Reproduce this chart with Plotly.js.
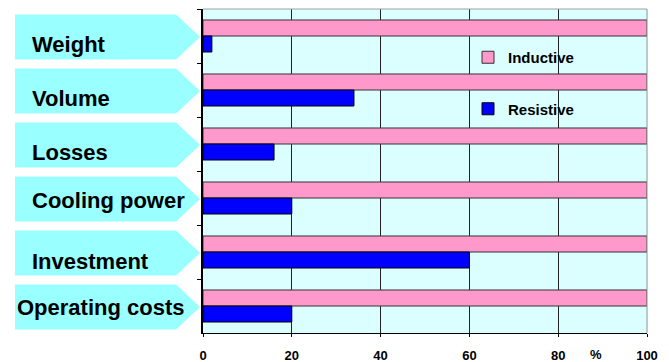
<!DOCTYPE html>
<html>
<head>
<meta charset="utf-8">
<script src="https://cdn.plot.ly/plotly-3.0.1.min.js"></script>
<style>html,body{margin:0;padding:0;background:#fff;}#chart{width:669px;height:362px;}</style>
</head>
<body>
<div id="chart"></div>
<script>
// ---- data ----
const categories = ["Weight", "Volume", "Losses", "Cooling power", "Investment", "Operating costs"];
const inductive = [100, 100, 100, 100, 100, 100];
const resistive = [2, 34, 16, 20, 60, 20];
const xTickVals = [0, 20, 40, 60, 80, 100];
const xTickText = ["0", "20", "40", "60", "80", "100"];
const seriesNames = ["Inductive", "Resistive"];

// ---- layout geometry (pixels) ----
const W = 669, H = 362;
const M = {l: 203, r: 22, t: 9, b: 29};
const pw = W - M.l - M.r, ph = H - M.t - M.b;
const px2x = p => (p - M.l) / pw;
const py2y = p => 1 - (p - M.t) / ph;
const FONT = "Liberation Sans, Arial, Helvetica, sans-serif";
const labelLeft = [30, 30, 30, 30, 30, 15];
const labelDy = [8, 8, 8.5, 2.5, 9.5, 1];

const n = categories.length;
const shapes = [];
const annotations = [];
categories.forEach((c, i) => {
  const cy = M.t + (i + 0.5) * ph / n + 1;
  const top = cy - 22.5, bot = cy + 22.5;
  const path = `M${px2x(15)},${py2y(top)} L${px2x(176)},${py2y(top)} L${px2x(200)},${py2y(cy)} L${px2x(176)},${py2y(bot)} L${px2x(15)},${py2y(bot)} Z`;
  shapes.push({type: "path", xref: "paper", yref: "paper", path: path,
    fillcolor: "#99ffff", line: {width: 0}, layer: "above"});
  annotations.push({xref: "paper", yref: "paper", x: px2x(labelLeft[i]), y: py2y(M.t + (i + 0.5) * ph / n + labelDy[i]),
    xanchor: "left", yanchor: "middle", showarrow: false, text: c,
    font: {family: FONT, size: 22, color: "#000", weight: "bold"}});
});
// plot border (top, right)
shapes.push({type: "line", xref: "paper", yref: "paper", x0: 0, x1: 1, y0: 1, y1: 1, line: {color: "#a0a0a0", width: 1}, layer: "above"});
shapes.push({type: "line", xref: "paper", yref: "paper", x0: 1, x1: 1, y0: 0, y1: 1, line: {color: "#909090", width: 1}, layer: "above"});
annotations.push({xref: "paper", yref: "paper", x: px2x(596), y: py2y(354), xanchor: "center", yanchor: "middle",
  showarrow: false, text: "%", font: {family: FONT, size: 13, color: "#000", weight: "bold"}});

const traces = [
  {type: "bar", orientation: "h", name: seriesNames[0], y: categories, x: inductive, legendgroup: "a",
   marker: {color: "#ff99cc", line: {color: "#333", width: 1}}, hoverinfo: "x+name"},
  {type: "bar", orientation: "h", name: seriesNames[1], y: categories, x: resistive, legendgroup: "b",
   marker: {color: "#0000ff", line: {color: "#000", width: 1}}, hoverinfo: "x+name"}
];

const layout = {
  width: W, height: H,
  margin: M,
  paper_bgcolor: "#ffffff",
  plot_bgcolor: "#dbffff",
  barmode: "group",
  bargap: 0.407,
  bargroupgap: 0,
  font: {family: FONT, color: "#000"},
  xaxis: {range: [0, 100], tickvals: xTickVals, ticktext: xTickText, showgrid: true, gridcolor: "#222", gridwidth: 1,
    zeroline: false, showline: true, linecolor: "#000", linewidth: 1, ticks: "outside", ticklen: 3, tickcolor: "#000",
    ticklabelstandoff: 7, tickfont: {family: FONT, size: 13, color: "#000", weight: "bold"}, fixedrange: true},
  yaxis: {type: "category", categoryarray: categories, categoryorder: "array", autorange: "reversed",
    showticklabels: false, showgrid: false, zeroline: false, showline: true, linecolor: "#000", linewidth: 1.5,
    ticks: "outside", tickson: "boundaries", ticklen: 4, tickcolor: "#000", fixedrange: true},
  showlegend: true,
  legend: {x: px2x(468), y: py2y(41), xanchor: "left", yanchor: "top", bgcolor: "rgba(0,0,0,0)",
    traceorder: "grouped", tracegroupgap: 29, font: {family: FONT, size: 15, color: "#000", weight: "bold"}},
  shapes: shapes,
  annotations: annotations
};

Plotly.newPlot("chart", traces, layout, {displayModeBar: false, staticPlot: false});
</script>
</body>
</html>
